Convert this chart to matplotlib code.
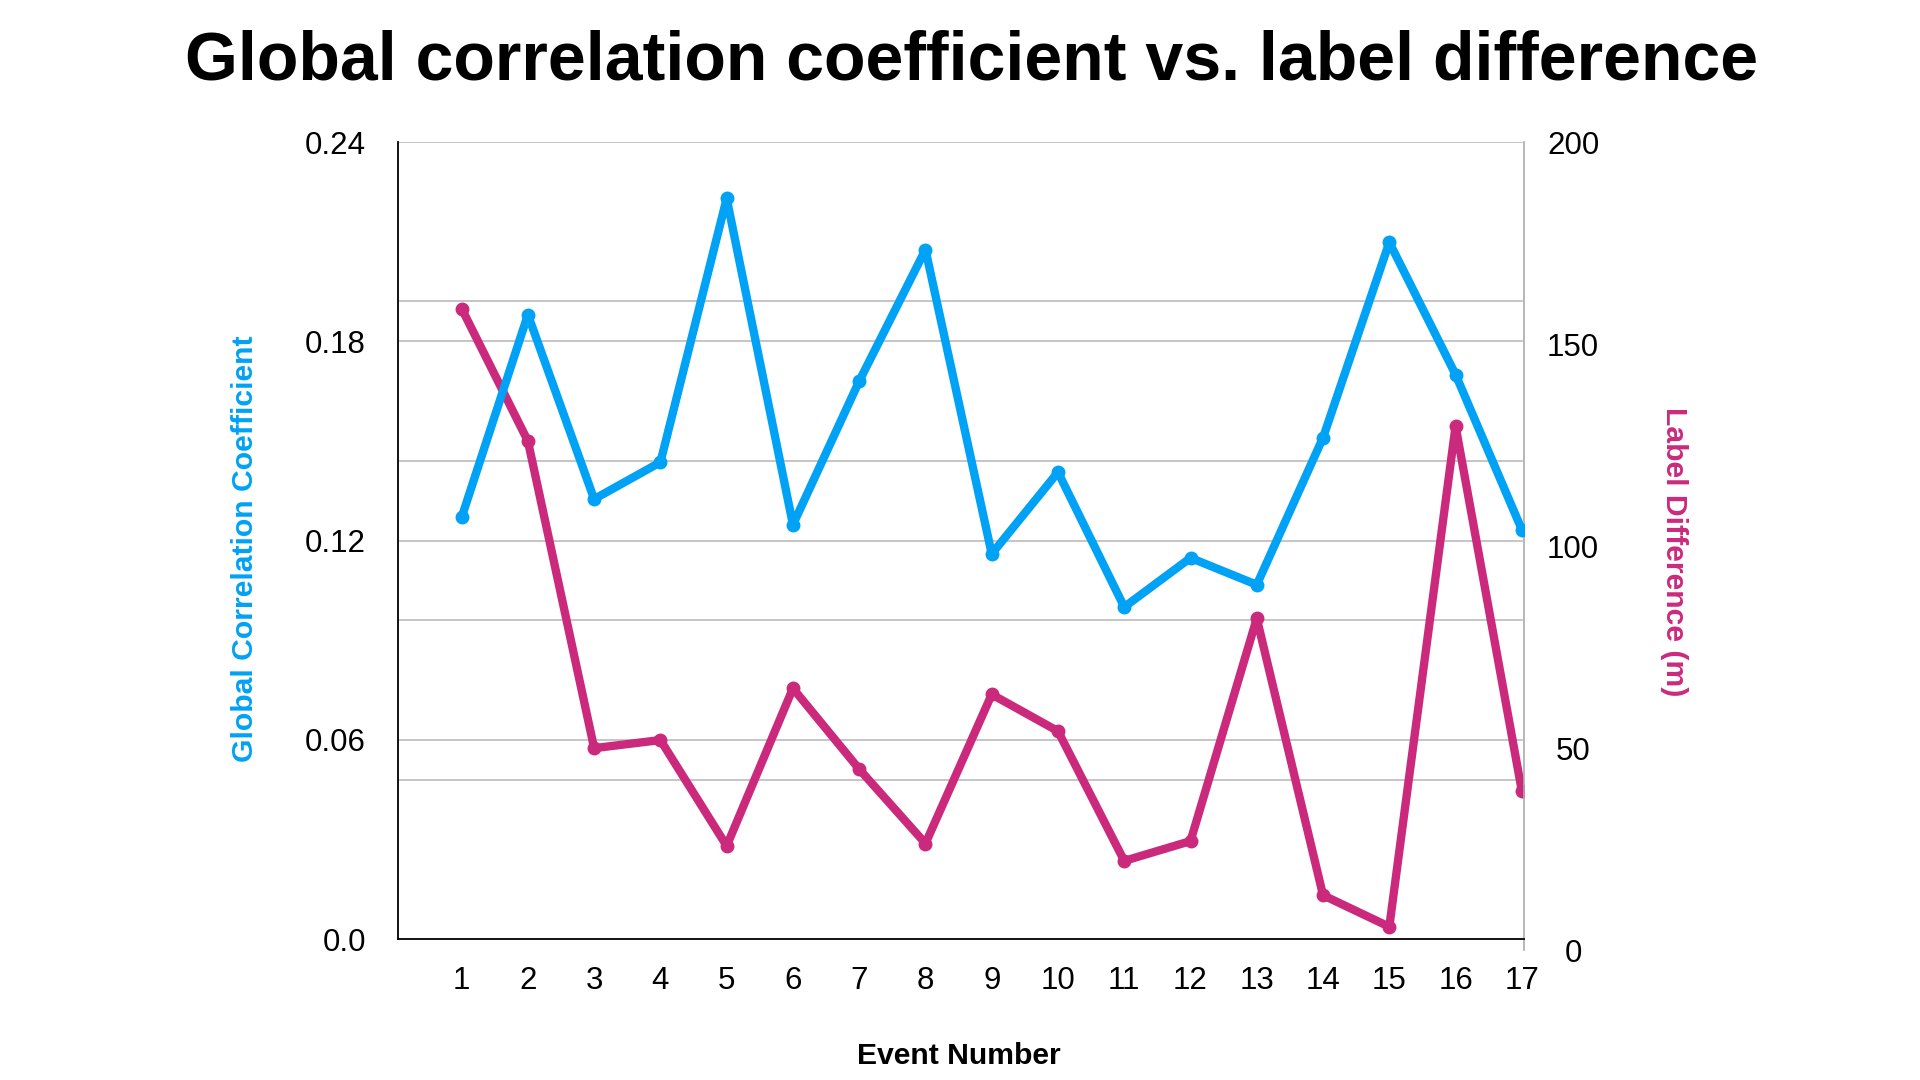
import matplotlib
matplotlib.use('Agg')
import matplotlib.pyplot as plt
import matplotlib.transforms as mtransforms

# event numbers on the x axis
events = list(range(1, 18))

# global correlation coefficient (left axis)
correlation = [0.127, 0.188, 0.1325, 0.1436, 0.223, 0.1248, 0.168, 0.2076, 0.116,
               0.1406, 0.100, 0.1148, 0.1067, 0.151, 0.2098, 0.170, 0.1233]

# label difference in metres (right axis)
label_diff = [158.8, 126.0, 50.0, 52.0, 25.8, 64.8, 44.8, 26.4, 63.3,
              54.2, 22.1, 27.0, 82.1, 13.6, 5.8, 129.7, 39.4]

left_ticks = [0.0, 0.06, 0.12, 0.18, 0.24]
left_tick_labels = ['0.0', '0.06', '0.12', '0.18', '0.24']
right_ticks = [0, 50, 100, 150, 200]
extra_grid = [0.048, 0.096, 0.144, 0.192]

BLUE = '#00A2F5'
PINK = '#CB2A7C'

plt.rcParams['font.family'] = ['Liberation Sans', 'DejaVu Sans']


def main():
    fig = plt.figure(figsize=(19.2, 10.8), dpi=100)
    fig.patch.set_facecolor('white')

    # right axis is a bit taller than the left one, as in the original
    ax2 = fig.add_axes([0.2073, 0.1202, 0.5867, 0.7483])
    ax = fig.add_axes([0.2073, 0.1304, 0.5867, 0.7381])
    ax.set_zorder(ax2.get_zorder() + 1)
    ax.patch.set_visible(False)

    xlim = (0.04, 17.04)

    # left axis
    ax.set_xlim(*xlim)
    ax.set_ylim(0, 0.24)
    ax.plot(events, correlation, color=BLUE, lw=6, marker='o', ms=9,
            solid_joinstyle='round', solid_capstyle='round')
    ax.set_yticks(left_ticks)
    ax.set_yticklabels(left_tick_labels)
    ax.set_xticks(events)
    ax.tick_params(axis='y', length=0, pad=23, labelsize=22.5)
    ax.tick_params(axis='x', length=0, pad=19, labelsize=22.5)
    for side in ['top', 'right']:
        ax.spines[side].set_visible(False)
    for side in ['left', 'bottom']:
        ax.spines[side].set_color('black')
        ax.spines[side].set_linewidth(1.3)

    # right axis
    ax2.set_xlim(*xlim)
    ax2.set_ylim(0, 200)
    ax2.xaxis.set_visible(False)
    ax2.yaxis.tick_right()
    ax2.set_yticks(right_ticks)
    ax2.tick_params(axis='y', length=0, pad=35, labelsize=22.5)
    for lbl in ax2.get_yticklabels():
        lbl.set_horizontalalignment('center')
    for side in ['top', 'left', 'bottom']:
        ax2.spines[side].set_visible(False)
    ax2.spines['right'].set_color('#AAAAAA')
    ax2.spines['right'].set_linewidth(1.2)

    # grid lines (in left-axis units)
    trans = mtransforms.blended_transform_factory(ax2.transAxes, ax.transData)
    for g in left_ticks[1:] + extra_grid:
        ax2.plot([0, 0.998], [g, g], color='#BBBBBB', lw=1.2, transform=trans,
                 zorder=0)

    ax2.plot(events, label_diff, color=PINK, lw=6, marker='o', ms=9,
             solid_joinstyle='round', solid_capstyle='round', zorder=2)

    # texts
    fig.text(0.506, 0.943, 'Global correlation coefficient vs. label difference',
             ha='center', va='center', fontsize=49, fontweight='bold')
    fig.text(0.1276, 0.492, 'Global Correlation Coefficient', rotation=90,
             ha='center', va='center', fontsize=21.7, fontweight='bold', color=BLUE)
    fig.text(0.872, 0.489, 'Label Difference (m)', rotation=270,
             ha='center', va='center', fontsize=21.7, fontweight='bold', color=PINK)
    fig.text(0.4994, 0.022, 'Event Number', ha='center', va='center',
             fontsize=21.7, fontweight='bold')

    fig.savefig('out.png', dpi=100, facecolor='white')


if __name__ == "__main__":
    main()
